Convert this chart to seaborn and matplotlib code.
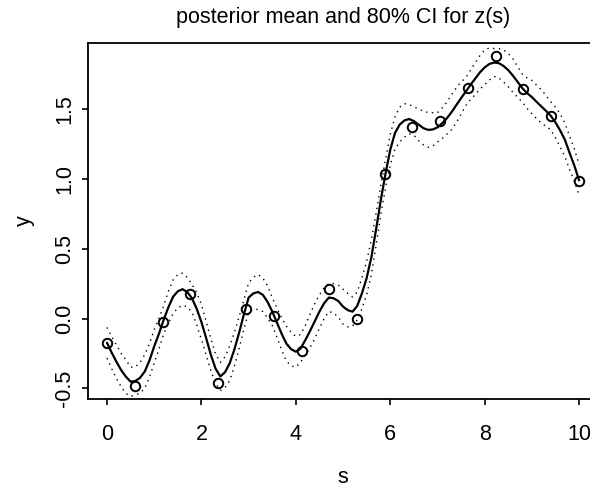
import matplotlib
matplotlib.use("Agg")
import matplotlib.pyplot as plt
import seaborn as sns
import pandas as pd

# observed data
s_obs = [0.00, 0.59, 1.18, 1.76, 2.35, 2.94, 3.53, 4.12, 4.71,
         5.29, 5.88, 6.47, 7.06, 7.65, 8.24, 8.82, 9.41, 10.00]
y_obs = [-0.174, -0.484, -0.025, 0.174, -0.463, 0.070, 0.018, -0.231, 0.209,
         -0.004, 1.037, 1.376, 1.417, 1.651, 1.885, 1.646, 1.448, 0.989]

# posterior mean and 80% CI read on a 0.1 grid
s_grid = [0.0, 0.1, 0.2, 0.3, 0.4, 0.5, 0.6, 0.7, 0.8, 0.9,
          1.0, 1.1, 1.2, 1.3, 1.4, 1.5, 1.6, 1.7, 1.8, 1.9,
          2.0, 2.1, 2.2, 2.3, 2.4, 2.5, 2.6, 2.7, 2.8, 2.9,
          3.0, 3.1, 3.2, 3.3, 3.4, 3.5, 3.6, 3.7, 3.8, 3.9,
          4.0, 4.1, 4.2, 4.3, 4.4, 4.5, 4.6, 4.7, 4.8, 4.9,
          5.0, 5.1, 5.2, 5.3, 5.4, 5.5, 5.6, 5.7, 5.8, 5.9,
          6.0, 6.1, 6.2, 6.3, 6.4, 6.5, 6.6, 6.7, 6.8, 6.9,
          7.0, 7.1, 7.2, 7.3, 7.4, 7.5, 7.6, 7.7, 7.8, 7.9,
          8.0, 8.1, 8.2, 8.3, 8.4, 8.5, 8.6, 8.7, 8.8, 8.9,
          9.0, 9.1, 9.2, 9.3, 9.4, 9.5, 9.6, 9.7, 9.8, 9.9, 10.0]
z_mean = [-0.174, -0.245, -0.31, -0.37, -0.417, -0.453, -0.448, -0.425, -0.38, -0.30,
          -0.20, -0.11, -0.01, 0.08, 0.156, 0.195, 0.21, 0.19, 0.145, 0.07,
          -0.025, -0.14, -0.26, -0.36, -0.415, -0.385, -0.32, -0.22, -0.10, 0.03,
          0.15, 0.18, 0.19, 0.17, 0.12, 0.05, -0.03, -0.11, -0.18, -0.22,
          -0.238, -0.215, -0.155, -0.09, -0.02, 0.05, 0.11, 0.15, 0.145, 0.125,
          0.085, 0.06, 0.049, 0.09, 0.18, 0.29, 0.44, 0.64, 0.85, 1.04,
          1.21, 1.33, 1.39, 1.42, 1.43, 1.415, 1.39, 1.365, 1.352, 1.355,
          1.37, 1.40, 1.436, 1.48, 1.53, 1.58, 1.627, 1.675, 1.72, 1.765,
          1.80, 1.825, 1.835, 1.83, 1.81, 1.78, 1.74, 1.695, 1.65, 1.615,
          1.587, 1.553, 1.52, 1.488, 1.453, 1.405, 1.347, 1.28, 1.185, 1.095, 0.99]
z_upper = [-0.064, -0.13, -0.19, -0.25, -0.297, -0.348, -0.348, -0.315, -0.26, -0.18,
           -0.08, 0.00, 0.09, 0.195, 0.276, 0.315, 0.325, 0.295, 0.245, 0.185,
           0.10, -0.02, -0.145, -0.255, -0.315, -0.275, -0.195, -0.10, 0.015, 0.135,
           0.255, 0.295, 0.315, 0.29, 0.235, 0.15, 0.075, 0.005, -0.055, -0.10,
           -0.128, -0.115, -0.05, 0.03, 0.105, 0.17, 0.22, 0.25, 0.25, 0.24,
           0.21, 0.18, 0.154, 0.19, 0.29, 0.41, 0.565, 0.755, 0.955, 1.14,
           1.32, 1.445, 1.515, 1.54, 1.535, 1.515, 1.505, 1.485, 1.477, 1.475,
           1.475, 1.51, 1.551, 1.605, 1.655, 1.695, 1.727, 1.78, 1.835, 1.885,
           1.925, 1.94, 1.935, 1.935, 1.925, 1.90, 1.86, 1.805, 1.75, 1.725,
           1.707, 1.673, 1.64, 1.598, 1.553, 1.515, 1.467, 1.40, 1.305, 1.215, 1.10]
z_lower = [-0.284, -0.36, -0.43, -0.49, -0.537, -0.558, -0.548, -0.535, -0.50, -0.42,
           -0.32, -0.22, -0.11, -0.035, 0.036, 0.075, 0.095, 0.085, 0.045, -0.045,
           -0.15, -0.26, -0.375, -0.465, -0.515, -0.495, -0.445, -0.34, -0.215, -0.075,
           0.045, 0.065, 0.065, 0.05, 0.005, -0.05, -0.135, -0.225, -0.305, -0.34,
           -0.348, -0.315, -0.26, -0.21, -0.145, -0.07, 0.00, 0.05, 0.04, 0.01,
           -0.04, -0.06, -0.056, -0.01, 0.07, 0.17, 0.315, 0.525, 0.745, 0.94,
           1.10, 1.215, 1.265, 1.30, 1.325, 1.315, 1.275, 1.245, 1.227, 1.235,
           1.265, 1.29, 1.321, 1.355, 1.405, 1.465, 1.527, 1.57, 1.605, 1.645,
           1.675, 1.71, 1.735, 1.725, 1.695, 1.66, 1.62, 1.585, 1.55, 1.505,
           1.467, 1.433, 1.40, 1.378, 1.353, 1.295, 1.227, 1.16, 1.065, 0.985, 0.88]

x_ticks = [0, 2, 4, 6, 8, 10]
y_ticks = [-0.5, 0.0, 0.5, 1.0, 1.5]
y_tick_labels = ["-0.5", "0.0", "0.5", "1.0", "1.5"]

sns.set_theme(style="white")
plt.rcParams["font.family"] = ["Liberation Sans", "DejaVu Sans"]
fs = 15.5

W, H = 590, 486
fig = plt.figure(figsize=(W / 100, H / 100), dpi=100)
left, right, top, bottom = 88.3, 598.0, 42.7, 399.0
ax = fig.add_axes([left / W, 1 - bottom / H, (right - left) / W, (bottom - top) / H])

curve = pd.DataFrame({"s": s_grid, "mean": z_mean, "upper": z_upper, "lower": z_lower})
obs = pd.DataFrame({"s": s_obs, "y": y_obs})

sns.lineplot(data=curve, x="s", y="upper", ax=ax, color="black", lw=1.0,
             linestyle=(0, (1, 3.2)), sort=False, estimator=None)
sns.lineplot(data=curve, x="s", y="lower", ax=ax, color="black", lw=1.0,
             linestyle=(0, (1, 3.2)), sort=False, estimator=None)
sns.lineplot(data=curve, x="s", y="mean", ax=ax, color="black", lw=1.6,
             sort=False, estimator=None)
ax.plot(obs["s"], obs["y"], linestyle="none", marker="o", markersize=6.8,
        markerfacecolor="none", markeredgecolor="black", markeredgewidth=1.4)

ax.set_xlim(-0.396, 10.4)
ax.set_ylim(-0.577, 1.977)
ax.set_xticks(x_ticks)
ax.set_xticklabels([str(t) for t in x_ticks])
ax.set_yticks(y_ticks)
ax.set_yticklabels(y_tick_labels, rotation=90, va="center")

for sp in ax.spines.values():
    sp.set_visible(True)
    sp.set_color("black")
    sp.set_linewidth(1.3)

ax.tick_params(axis="both", which="major", direction="out", length=4.3, width=1.2,
               color="black", labelsize=fs, labelcolor="black")
ax.tick_params(axis="x", pad=14, bottom=True)
ax.tick_params(axis="y", pad=5, left=True)
ax.tick_params(top=False, right=False)

xcenter = (((107 + 579) / 2) - left) / (right - left)
ax.set_xlabel("s", fontsize=fs, color="black", va="center")
ax.set_ylabel("y", fontsize=fs, color="black", va="center")
ax.xaxis.set_label_coords(xcenter, (bottom - 477) / (bottom - top))
ax.yaxis.set_label_coords((24 - left) / (right - left), 0.5)

ax.set_title("posterior mean and 80% CI for z(s)", fontsize=fs, color="black", pad=14.4)
ax.title.set_x(xcenter)
ax.grid(False)

fig.savefig("out.png", dpi=100)
